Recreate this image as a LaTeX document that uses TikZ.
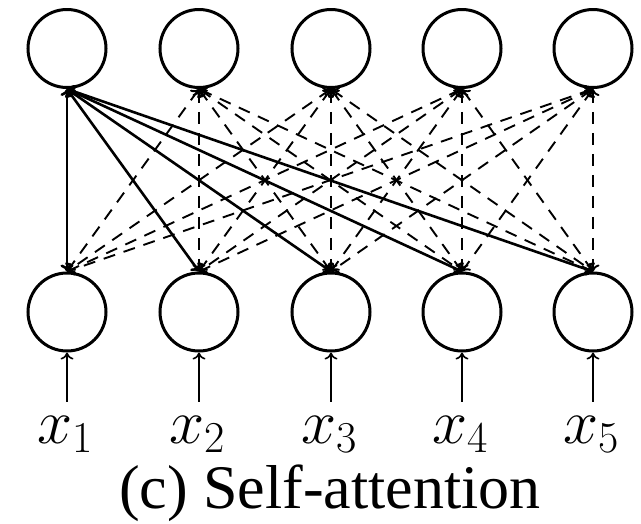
\RequirePackage{fix-cm}
\documentclass[tikz,border=0pt]{standalone}
\usepackage{fontspec}
\newfontfamily\capfont{Liberation Serif}
\usetikzlibrary{arrows.meta}
\begin{document}
\begin{tikzpicture}[x=1pt,y=-1pt,
  neuron/.style={circle, draw, line width=3pt, minimum size=78pt, inner sep=0pt},
  att/.style={line width=2.6pt, {To[length=7pt,width=13pt]}-{To[length=7pt,width=13pt]}},
  datt/.style={line width=1.9pt, dash pattern=on 12pt off 9pt, {To[length=7pt,width=13pt]}-{To[length=7pt,width=13pt]}},
  inarrow/.style={line width=1.6pt, -{To[length=7pt,width=13pt]}},
  lab/.style={font=\fontsize{63}{70}\selectfont, inner xsep=0pt, inner ysep=14pt, anchor=base},
  captext/.style={font=\capfont\fontsize{62}{70}\selectfont, inner sep=0pt, anchor=base}]
\useasboundingbox (0,0) rectangle (641,523);
\foreach \i/\x in {1/67,2/199,3/331,4/462,5/593}{
  \node[neuron] (t\i) at (\x,48.5) {};
  \node[neuron] (b\i) at (\x,312) {};
  \node[lab] (x\i) at (\x-2,443) {$x_{\i}$};
}
\foreach \j in {2,...,5}{
  \foreach \i in {1,...,5}{
    \draw[datt] (t\j.south) -- (b\i.north);
  }
}
\foreach \i in {1,...,5}{
  \draw[att] (t1.south) -- (b\i.north);
  \draw[inarrow] (b\i.south |- x\i.north) -- (b\i.south);
}
\node[captext] (caption) at (330,508) {(c) Self-attention};
\end{tikzpicture}
\end{document}
